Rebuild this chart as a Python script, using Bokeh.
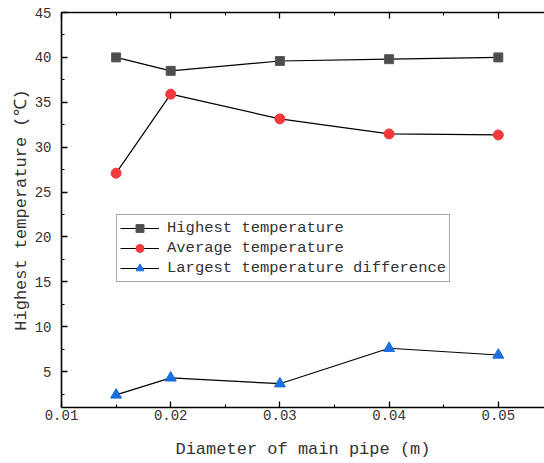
from bokeh.plotting import figure
from bokeh.models import LinearAxis, Range1d, FixedTicker, Legend, LegendItem
from bokeh.embed import file_html
from bokeh.resources import INLINE

# data
diameter = [0.015, 0.02, 0.03, 0.04, 0.05]
highest = [40.0, 38.5, 39.6, 39.8, 40.0]
average = [27.1, 35.9, 33.15, 31.47, 31.36]
largest_diff = [2.4, 4.3, 3.65, 7.6, 6.85]

x_ticks = [0.01, 0.02, 0.03, 0.04, 0.05]
x_minor = [0.015, 0.025, 0.035, 0.045]
x_tick_labels = ["0.01", "0.02", "0.03", "0.04", "0.05"]
y_ticks = [5, 10, 15, 20, 25, 30, 35, 40, 45]
y_minor = [2.5, 7.5, 12.5, 17.5, 22.5, 27.5, 32.5, 37.5, 42.5]

FONT = "Liberation Mono"
TXT = "#333333"

p = figure(width=544, height=463, x_range=Range1d(0.01, 0.05423), y_range=Range1d(1, 45),
           output_backend="svg", toolbar_location=None,
           min_border_left=61, min_border_right=0, min_border_top=12, min_border_bottom=56,
           x_axis_type=None, y_axis_type=None)
p.grid.visible = False
p.outline_line_color = None
p.background_fill_color = "white"
p.border_fill_color = "white"

xt = FixedTicker(ticks=x_ticks, minor_ticks=x_minor)
yt = FixedTicker(ticks=y_ticks, minor_ticks=y_minor)


def style(ax, labels=True):
    ax.axis_line_color = "black"
    ax.axis_line_width = 1.6
    ax.major_tick_line_color = "black"
    ax.minor_tick_line_color = "black"
    ax.major_tick_line_width = 1.3
    ax.minor_tick_line_width = 1.1
    ax.major_tick_in = 6
    ax.major_tick_out = 0
    ax.minor_tick_in = 3
    ax.minor_tick_out = 0
    ax.major_label_text_font = FONT
    ax.major_label_text_color = TXT
    ax.major_label_text_font_size = "14px"
    ax.axis_label_text_font = FONT
    ax.axis_label_text_color = TXT
    ax.axis_label_text_font_size = "17px"
    ax.axis_label_text_font_style = "normal"
    if not labels:
        ax.major_label_text_font_size = "0px"
        ax.major_label_standoff = 0


xb = LinearAxis(ticker=xt, axis_label="Diameter of main pipe (m)")
style(xb)
xb.major_label_overrides = {t: l for t, l in zip(x_ticks, x_tick_labels)}
xb.major_label_standoff = 2
xb.axis_label_standoff = 17
p.add_layout(xb, "below")

xa = LinearAxis(ticker=xt)
style(xa, labels=False)
p.add_layout(xa, "above")

yl = LinearAxis(ticker=yt, axis_label="Highest temperature (℃)")
style(yl)
yl.major_label_standoff = 10
yl.axis_label_standoff = 1
p.add_layout(yl, "left")

r1l = p.line(diameter, highest, line_color="black", line_width=1.2)
r1s = p.scatter(diameter, highest, marker="square", size=9, fill_color="#4d4d4d", line_color="#5a5a5a")
r2l = p.line(diameter, average, line_color="black", line_width=1.2)
r2s = p.scatter(diameter, average, marker="circle", size=10, fill_color="#f23a3c", line_color="#f23a3c")
r3l = p.line(diameter, largest_diff, line_color="black", line_width=1.2)
r3s = p.scatter(diameter, largest_diff, marker="triangle", size=11, fill_color="#1c6fde", line_color="#1c6fde")

legend = Legend(items=[
    LegendItem(label="Highest temperature", renderers=[r1l, r1s]),
    LegendItem(label="Average temperature", renderers=[r2l, r2s]),
    LegendItem(label="Largest temperature difference", renderers=[r3l, r3s]),
], location=(55, 125))
legend.label_text_font = FONT
legend.label_text_font_size = "15.5px"
legend.label_text_color = TXT
legend.label_height = 20
legend.glyph_height = 20
legend.glyph_width = 39
legend.label_standoff = 8
legend.spacing = 0
legend.padding = 3
legend.margin = 0
legend.border_line_color = "#555555"
legend.border_line_width = 1
legend.background_fill_alpha = 1
p.add_layout(legend)

open("out.html", "w").write(file_html(p, INLINE))
